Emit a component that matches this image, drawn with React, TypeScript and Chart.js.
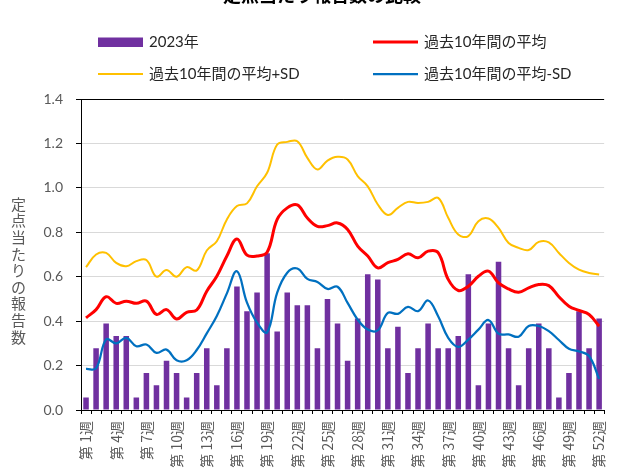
import React, { useEffect, useRef } from "react";
import { Chart, registerables } from "chart.js";

Chart.register(...registerables);

const titleText = "定点当たり報告数の比較";
const yAxisTitle = "定点当たりの報告数";

const weekLabels = [
  "第 1週", "第 2週", "第 3週", "第 4週", "第 5週", "第 6週", "第 7週", "第 8週", "第 9週", "第 10週",
  "第 11週", "第 12週", "第 13週", "第 14週", "第 15週", "第 16週", "第 17週", "第 18週", "第 19週", "第 20週",
  "第 21週", "第 22週", "第 23週", "第 24週", "第 25週", "第 26週", "第 27週", "第 28週", "第 29週", "第 30週",
  "第 31週", "第 32週", "第 33週", "第 34週", "第 35週", "第 36週", "第 37週", "第 38週", "第 39週", "第 40週",
  "第 41週", "第 42週", "第 43週", "第 44週", "第 45週", "第 46週", "第 47週", "第 48週", "第 49週", "第 50週",
  "第 51週", "第 52週",
];

const labeledWeeks = ["第 1週", "第 4週", "第 7週", "第 10週", "第 13週", "第 16週", "第 19週", "第 22週", "第 25週",
  "第 28週", "第 31週", "第 34週", "第 37週", "第 40週", "第 43週", "第 46週", "第 49週", "第 52週"];

const yTickValues = [0, 0.2, 0.4, 0.6, 0.8, 1.0, 1.2, 1.4];

const cases2023 = [
  0.056, 0.278, 0.389, 0.333, 0.333, 0.056, 0.167, 0.111, 0.222, 0.167,
  0.056, 0.167, 0.278, 0.111, 0.278, 0.556, 0.444, 0.529, 0.706, 0.353,
  0.529, 0.471, 0.471, 0.278, 0.5, 0.389, 0.222, 0.412, 0.611, 0.588,
  0.278, 0.375, 0.167, 0.278, 0.389, 0.278, 0.278, 0.333, 0.611, 0.111,
  0.389, 0.667, 0.278, 0.111, 0.278, 0.389, 0.278, 0.056, 0.167, 0.444,
  0.278, 0.412,
];

const avg10 = [
  0.415, 0.452, 0.51, 0.48, 0.49, 0.48, 0.49, 0.43, 0.452, 0.41,
  0.44, 0.45, 0.535, 0.602, 0.693, 0.77, 0.697, 0.693, 0.71, 0.858,
  0.91, 0.923, 0.864, 0.827, 0.83, 0.842, 0.813, 0.738, 0.693, 0.64,
  0.663, 0.678, 0.703, 0.685, 0.715, 0.708, 0.588, 0.538, 0.557, 0.602,
  0.625, 0.572, 0.545, 0.53, 0.55, 0.565, 0.56, 0.51, 0.467, 0.448,
  0.43, 0.377,
];

const avgPlusSD = [
  0.643, 0.70, 0.707, 0.662, 0.647, 0.67, 0.675, 0.60, 0.63, 0.60,
  0.643, 0.628, 0.718, 0.76, 0.858, 0.918, 0.93, 1.007, 1.068, 1.195,
  1.207, 1.21, 1.135, 1.083, 1.123, 1.14, 1.128, 1.053, 1.007, 0.925,
  0.878, 0.91, 0.937, 0.932, 0.937, 0.955, 0.865, 0.79, 0.783, 0.85,
  0.862, 0.82, 0.752, 0.73, 0.72, 0.757, 0.755, 0.707, 0.662, 0.632,
  0.617, 0.61,
];

const avgMinusSD = [
  0.185, 0.188, 0.318, 0.30, 0.325, 0.287, 0.295, 0.257, 0.272, 0.224,
  0.224, 0.27, 0.345, 0.423, 0.525, 0.625, 0.483, 0.393, 0.35, 0.528,
  0.618, 0.637, 0.59, 0.576, 0.545, 0.555, 0.482, 0.407, 0.362, 0.359,
  0.437, 0.433, 0.464, 0.445, 0.493, 0.422, 0.325, 0.284, 0.317, 0.362,
  0.405, 0.344, 0.34, 0.33, 0.378, 0.378, 0.355, 0.315, 0.276, 0.264,
  0.243, 0.14,
];

const FONT = "Lato, 'Noto Sans CJK JP', sans-serif";
const JP = "'Noto Sans CJK JP', sans-serif";

const decorPlugin = {
  id: "decor",
  afterDraw(chart: any) {
    const ctx = chart.ctx as CanvasRenderingContext2D;
    ctx.save();
    // title (cut off at top, as in the reference)
    ctx.font = "bold 18px " + JP;
    ctx.fillStyle = "#000";
    ctx.textAlign = "center";
    ctx.textBaseline = "ideographic";
    ctx.fillText(titleText, 322, 4);

    // legend (2 x 2)
    const slots = [
      { x: 98, y: 42 },
      { x: 373, y: 42 },
      { x: 98, y: 74 },
      { x: 373, y: 74 },
    ];
    chart.data.datasets.forEach((ds: any, i: number) => {
      const s = slots[i];
      if (ds.type === "bar" || !ds.type) {
        ctx.fillStyle = ds.backgroundColor;
        ctx.fillRect(s.x, s.y - 4.5, 45, 9.5);
      } else {
        ctx.strokeStyle = ds.borderColor;
        ctx.lineWidth = ds.borderWidth;
        ctx.beginPath();
        ctx.moveTo(s.x, s.y);
        ctx.lineTo(s.x + 45, s.y);
        ctx.stroke();
      }
      ctx.fillStyle = "#262626";
      ctx.font = "15px " + FONT;
      ctx.textAlign = "left";
      ctx.textBaseline = "middle";
      ctx.fillText(ds.label, s.x + 51, s.y);
    });

    // y axis title, upright stacked characters
    ctx.font = "15px " + JP;
    ctx.fillStyle = "#595959";
    ctx.textAlign = "center";
    ctx.textBaseline = "middle";
    Array.from(yAxisTitle).forEach((c, i) => {
      ctx.fillText(c, 18.5, 204 + i * 16.6);
    });
    ctx.restore();
  },
};

export default function App() {
  const canvasRef = useRef<HTMLCanvasElement | null>(null);

  useEffect(() => {
    const canvas = canvasRef.current;
    if (!canvas) return;
    const chart = new Chart(canvas, {
      type: "bar",
      data: {
        labels: weekLabels,
        datasets: [
          {
            type: "bar",
            label: "2023年",
            data: cases2023,
            backgroundColor: "#7030A0",
            barPercentage: 0.55,
            categoryPercentage: 1.0,
            order: 10,
          } as any,
          {
            type: "line",
            label: "過去10年間の平均",
            data: avg10,
            borderColor: "#FF0000",
            backgroundColor: "#FF0000",
            borderWidth: 3,
            pointRadius: 0,
            tension: 0.4,
            order: 1,
          },
          {
            type: "line",
            label: "過去10年間の平均+SD",
            data: avgPlusSD,
            borderColor: "#FFC000",
            backgroundColor: "#FFC000",
            borderWidth: 2,
            pointRadius: 0,
            tension: 0.4,
            order: 2,
          },
          {
            type: "line",
            label: "過去10年間の平均-SD",
            data: avgMinusSD,
            borderColor: "#0070C0",
            backgroundColor: "#0070C0",
            borderWidth: 2.25,
            pointRadius: 0,
            tension: 0.4,
            order: 3,
          },
        ],
      },
      options: {
        responsive: false,
        animation: false,
        devicePixelRatio: 1,
        layout: { padding: { top: 99, right: 8, bottom: 0, left: 0 } },
        plugins: {
          legend: { display: false },
          title: { display: false },
          tooltip: { enabled: false },
        },
        scales: {
          x: {
            offset: true,
            afterFit: (s: any) => {
              s.height = 58;
            },
            grid: {
              offset: true,
              drawOnChartArea: false,
              drawTicks: true,
              tickLength: 4,
              tickColor: "#000",
              color: "#000",
            },
            border: { color: "#000", width: 1 },
            ticks: {
              autoSkip: false,
              maxRotation: 90,
              minRotation: 90,
              padding: 7,
              color: "#595959",
              font: { family: JP, size: 14 },
              callback: function (this: any, _v: any, i: number) {
                const lbl = weekLabels[i];
                return labeledWeeks.includes(lbl) ? lbl : "";
              },
            },
          },
          y: {
            min: 0,
            max: 1.4,
            afterFit: (s: any) => {
              s.width = 81;
            },
            afterBuildTicks: (s: any) => {
              s.ticks = yTickValues.map((v) => ({ value: v }));
            },
            grid: {
              color: (c: any) => (c.tick && Math.abs(c.tick.value - 1.4) < 1e-6 ? "#000" : "#D9D9D9"),
              tickColor: "#000",
              tickLength: 5,
              lineWidth: 1,
            },
            border: { color: "#000", width: 1 },
            ticks: {
              padding: 13,
              color: "#595959",
              font: { family: FONT, size: 14 },
              callback: (v: any) => Number(v).toFixed(1),
            },
          },
        },
      },
      plugins: [decorPlugin],
    });
    return () => chart.destroy();
  }, []);

  return (
    <div style={{ position: "fixed", left: 0, top: 0, width: 623, height: 468, background: "#fff" }}>
      <canvas ref={canvasRef} width={623} height={468} style={{ display: "block" }} />
    </div>
  );
}
